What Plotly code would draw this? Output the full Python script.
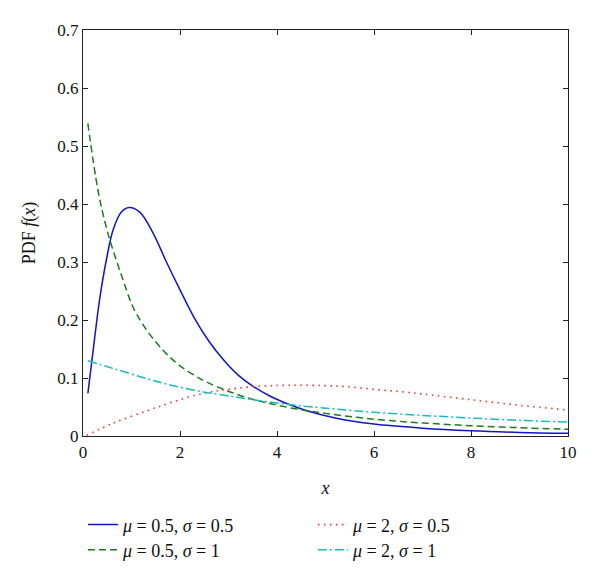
import plotly.graph_objects as go

# Series
blue_x = [0.1, 0.21, 0.34, 0.48, 0.62, 0.79, 0.95, 1.17, 1.45, 1.72, 2.0, 2.3, 2.6, 2.9, 3.2, 3.5, 3.85, 4.2, 4.6, 5.2, 6.0, 7.0, 8.0, 9.0, 10.0]
blue_y = [0.0735, 0.148, 0.234, 0.303, 0.355, 0.386, 0.394, 0.386, 0.349, 0.300, 0.252, 0.203, 0.163, 0.131, 0.105, 0.086, 0.069, 0.056, 0.044, 0.031, 0.0205, 0.0135, 0.009, 0.0062, 0.0046]

green_x = [0.1, 0.31, 0.48, 0.59, 0.83, 1.03, 1.31, 1.65, 2.0, 2.48, 2.82, 3.17, 3.51, 3.85, 4.41, 5.0, 6.0, 7.0, 8.0, 9.0, 10.0]
green_y = [0.539, 0.423, 0.36, 0.328, 0.268, 0.2225, 0.183, 0.148, 0.121, 0.096, 0.083, 0.072, 0.063, 0.056, 0.0465, 0.039, 0.029, 0.0225, 0.0178, 0.0143, 0.0115]

red_x = [0.07, 0.62, 1.31, 1.79, 2.48, 2.96, 3.51, 4.06, 4.5, 5.0, 5.44, 6.0, 6.54, 7.0, 8.0, 9.0, 10.0]
red_y = [0.001, 0.022, 0.043, 0.057, 0.0735, 0.080, 0.085, 0.0872, 0.0875, 0.0868, 0.085, 0.0805, 0.0765, 0.0725, 0.0625, 0.053, 0.0448]

cyan_x = [0.1, 0.62, 1.31, 1.79, 2.48, 3.17, 3.85, 4.54, 5.2, 6.0, 7.0, 8.0, 9.0, 10.0]
cyan_y = [0.1296, 0.1165, 0.099, 0.088, 0.076, 0.067, 0.0585, 0.0515, 0.0465, 0.041, 0.0355, 0.031, 0.027, 0.024]

names = ["<i>μ</i> = 0.5, <i>σ</i> = 0.5", "<i>μ</i> = 0.5, <i>σ</i> = 1",
         "<i>μ</i> = 2, <i>σ</i> = 0.5", "<i>μ</i> = 2, <i>σ</i> = 1"]

x_ticks = [0, 2, 4, 6, 8, 10]
y_ticks = [0, 0.1, 0.2, 0.3, 0.4, 0.5, 0.6, 0.7]
y_tick_text = ["0", "0.1", "0.2", "0.3", "0.4", "0.5", "0.6", "0.7"]

FONT = "Liberation Serif"

fig = go.Figure()
fig.add_trace(go.Scatter(x=blue_x, y=blue_y, mode="lines", name=names[0], legend="legend",
                         line=dict(color="#1414c8", width=1.5, shape="spline", smoothing=1.0)))
fig.add_trace(go.Scatter(x=green_x, y=green_y, mode="lines", name=names[1], legend="legend2",
                         line=dict(color="#1a7d1a", width=1.5, dash="7px,4px", shape="spline", smoothing=1.0)))
fig.add_trace(go.Scatter(x=red_x, y=red_y, mode="lines", name=names[2], legend="legend3",
                         line=dict(color="#e04040", width=1.6, dash="1.6px,4.4px", shape="spline", smoothing=1.0)))
fig.add_trace(go.Scatter(x=cyan_x, y=cyan_y, mode="lines", name=names[3], legend="legend4",
                         line=dict(color="#18bcbc", width=1.5, dash="9px,3px,2px,3px", shape="spline", smoothing=1.0)))

axis_common = dict(showline=True, linecolor="#222", linewidth=1.2, mirror="ticks",
                   ticks="inside", ticklen=5, tickcolor="#222", tickwidth=1.2,
                   showgrid=False, zeroline=False,
                   tickfont=dict(family=FONT, size=17, color="#111"))

fig.update_xaxes(range=[0, 10], tickvals=x_ticks, **axis_common,
                 title=dict(text="<i>x</i>", font=dict(family=FONT, size=18, color="#111"), standoff=20))
fig.update_yaxes(range=[0, 0.7], tickvals=y_ticks, ticktext=y_tick_text, **axis_common,
                 title=dict(text="PDF <i>f</i>(<i>x</i>)", font=dict(family=FONT, size=18, color="#111"), standoff=16))

leg_font = dict(family=FONT, size=18, color="#111")
def leg(xp, yp):
    return dict(x=xp, y=yp, xanchor="left", yanchor="middle", font=leg_font,
                bgcolor="rgba(0,0,0,0)", itemwidth=30)

fig.update_layout(
    width=600, height=581,
    margin=dict(l=75, r=40, t=22, b=153),
    paper_bgcolor="white", plot_bgcolor="white",
    showlegend=True,
    legend=leg(0.0, -0.219),
    legend2=leg(0.0, -0.281),
    legend3=leg(0.474, -0.219),
    legend4=leg(0.474, -0.281),
)

fig.write_html("out.html")
